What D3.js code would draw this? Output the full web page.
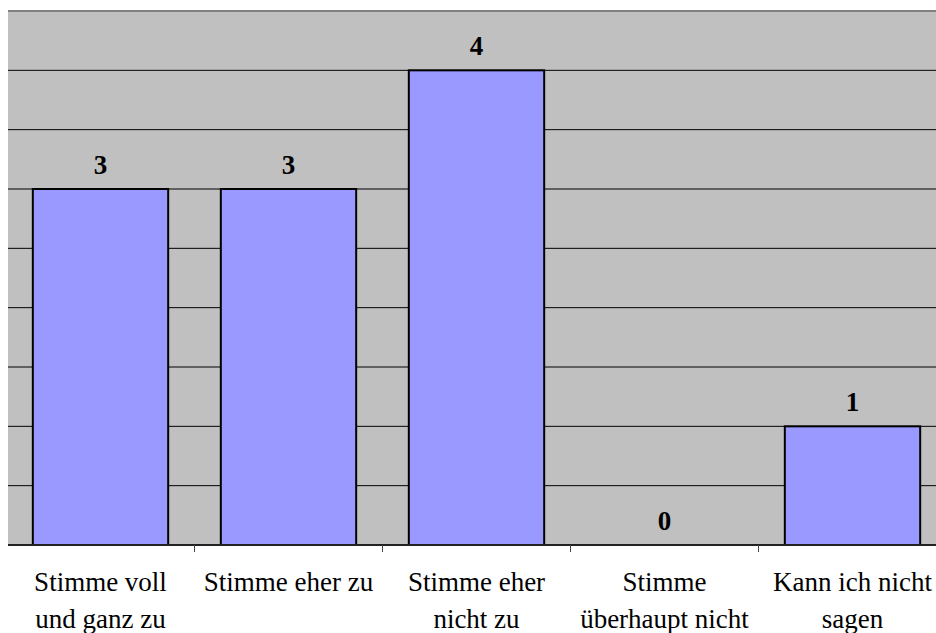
<!DOCTYPE html>
<html>
<head>
<meta charset="utf-8">
<script src="https://cdnjs.cloudflare.com/ajax/libs/d3/7.8.5/d3.min.js"></script>
<style>
  body { margin: 0; background: #fff; }
  svg { display: block; }
  text { font-family: 'Liberation Serif', 'Times New Roman', Times, serif; }
</style>
</head>
<body>
<div class="chart"></div>
<script>
const categories = [
  ['Stimme voll', 'und ganz zu'],
  ['Stimme eher zu'],
  ['Stimme eher', 'nicht zu'],
  ['Stimme', 'überhaupt nicht'],
  ['Kann ich nicht', 'sagen']
];
const values = [3, 3, 4, 0, 1];
const gridTicks = [0.5, 1, 1.5, 2, 2.5, 3, 3.5, 4, 4.5];

const width = 936;
const height = 633;
const svg = d3.select('.chart')
  .append('svg')
  .attr('width', width)
  .attr('height', height);

const x = d3.scaleBand()
  .domain(d3.range(categories.length))
  .range([6.5, 946.5])
  .paddingInner(0.28)
  .paddingOuter(0.14);

const y = d3.scaleLinear()
  .domain([0, 4.5])
  .range([545, 11]);

// plot area
svg.append('rect')
  .attr('x', 8)
  .attr('y', y(4.5))
  .attr('width', width - 8)
  .attr('height', y(0) - y(4.5))
  .attr('fill', '#c0c0c0');

// gridlines
svg.selectAll('line.grid')
  .data(gridTicks)
  .enter()
  .append('line')
  .attr('class', 'grid')
  .attr('x1', 8)
  .attr('x2', width)
  .attr('y1', d => y(d))
  .attr('y2', d => y(d))
  .attr('stroke', d => d === 4.5 ? '#808080' : '#000')
  .attr('stroke-width', d => d === 4.5 ? 2 : 1);

// bars
svg.selectAll('rect.bar')
  .data(values)
  .enter()
  .append('rect')
  .attr('class', 'bar')
  .attr('x', (d, i) => x(i))
  .attr('y', d => y(d))
  .attr('width', x.bandwidth())
  .attr('height', d => y(0) - y(d))
  .attr('fill', '#9999ff')
  .attr('stroke', '#000')
  .attr('stroke-width', 2);

// baseline
svg.append('line')
  .attr('x1', 8)
  .attr('x2', width)
  .attr('y1', y(0))
  .attr('y2', y(0))
  .attr('stroke', '#222')
  .attr('stroke-width', 2);

// tick marks between categories
const step = x.step();
svg.selectAll('line.tick')
  .data(d3.range(1, categories.length))
  .enter()
  .append('line')
  .attr('class', 'tick')
  .attr('x1', i => x(i) - x.paddingInner() * step / 2)
  .attr('x2', i => x(i) - x.paddingInner() * step / 2)
  .attr('y1', y(0))
  .attr('y2', y(0) + 7)
  .attr('stroke', '#444')
  .attr('stroke-width', 1);

// value labels
svg.selectAll('text.value')
  .data(values)
  .enter()
  .append('text')
  .attr('class', 'value')
  .attr('x', (d, i) => x(i) + x.bandwidth() / 2)
  .attr('y', d => y(d) - 15)
  .attr('text-anchor', 'middle')
  .attr('font-weight', 'bold')
  .attr('font-size', '27px')
  .attr('fill', '#000')
  .text(d => d);

// category labels
const labels = svg.selectAll('text.cat')
  .data(categories)
  .enter()
  .append('text')
  .attr('class', 'cat')
  .attr('text-anchor', 'middle')
  .attr('font-size', '27px')
  .attr('fill', '#000');

labels.selectAll('tspan')
  .data((d, i) => d.map(t => ({t, i})))
  .enter()
  .append('tspan')
  .attr('x', d => x(d.i) + x.bandwidth() / 2)
  .attr('y', (d, j) => 591 + j * 37)
  .text(d => d.t);
</script>
</body>
</html>
